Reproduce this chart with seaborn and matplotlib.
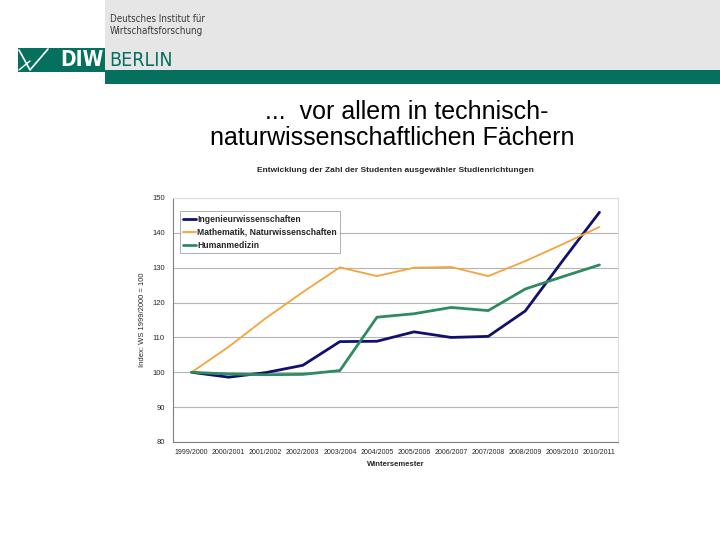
import matplotlib
matplotlib.use("Agg")
import matplotlib.pyplot as plt
import matplotlib.patches as mpatches
import matplotlib.lines as mlines
import pandas as pd
import seaborn as sns

semester = ['1999/2000', '2000/2001', '2001/2002', '2002/2003', '2003/2004', '2004/2005',
            '2005/2006', '2006/2007', '2007/2008', '2008/2009', '2009/2010', '2010/2011']
ingenieur = [100, 98.6, 99.9, 102.0, 108.8, 108.9, 111.6, 110.0, 110.3, 117.6, 131.9, 145.9]
mathe = [100, 107.3, 115.5, 123.0, 130.1, 127.6, 130.0, 130.2, 127.6, 131.9, 136.7, 141.7]
medizin = [100, 99.5, 99.3, 99.4, 100.5, 115.8, 116.8, 118.6, 117.7, 123.9, 127.4, 130.8]
serien = ['Ingenieurwissenschaften', 'Mathematik, Naturwissenschaften', 'Humanmedizin']
farben = ['#10106e', '#f5a43a', '#2f8a62']

rows = []
for name, werte in zip(serien, [ingenieur, mathe, medizin]):
    for i, w in enumerate(werte):
        rows.append({'pos': i, 'wert': w, 'serie': name})
df = pd.DataFrame(rows)

sns.set_style('white')
plt.rcParams['font.family'] = ['Liberation Sans', 'DejaVu Sans']

W, H = 720, 540
fig = plt.figure(figsize=(7.2, 5.4), dpi=100)

def fx(x):
    return x / W

def fy(y):
    return 1 - y / H

# Kopfbereich DIW
fig.add_artist(mpatches.Rectangle((fx(105), fy(70)), fx(615), 70 / H, transform=fig.transFigure,
                                  facecolor='#e6e6e6', edgecolor='none'))
fig.add_artist(mpatches.Rectangle((fx(105), fy(84)), fx(615), 14 / H, transform=fig.transFigure,
                                  facecolor='#06705f', edgecolor='none'))
fig.add_artist(mpatches.Rectangle((fx(18), fy(72)), fx(87), 24 / H, transform=fig.transFigure,
                                  facecolor='#06705f', edgecolor='none'))
fig.add_artist(mlines.Line2D([fx(19), fx(30), fx(48)], [fy(50), fy(70), fy(49)],
                             transform=fig.transFigure, color='white', lw=1.2))
fig.add_artist(mlines.Line2D([fx(19), fx(30)], [fy(70), fy(61)],
                             transform=fig.transFigure, color='white', lw=1.0))
fig.text(fx(60), fy(60), 'DIW', color='white', fontsize=15, fontweight='bold',
         family='DejaVu Sans', fontstretch='condensed', va='center', ha='left')
fig.text(fx(109), fy(60), 'BERLIN', color='#06705f', fontsize=14,
         family='DejaVu Sans', fontstretch='condensed', va='center', ha='left')
fig.text(fx(110), fy(19), 'Deutsches Institut für', color='#3a3a3a', fontsize=7,
         family='DejaVu Sans', fontstretch='condensed', va='center', ha='left')
fig.text(fx(110), fy(31), 'Wirtschaftsforschung', color='#3a3a3a', fontsize=7,
         family='DejaVu Sans', fontstretch='condensed', va='center', ha='left')

# Folientitel
fig.text(fx(407), fy(112), '...  vor allem in technisch-', ha='center', va='center',
         fontsize=18, color='black')
fig.text(fx(392), fy(138), 'naturwissenschaftlichen Fächern', ha='center', va='center',
         fontsize=18, color='black')

# Diagramm
ax = fig.add_axes([fx(173), fy(442), fx(618 - 173), (442 - 198) / H])
sns.lineplot(data=df, x='pos', y='wert', hue='serie', hue_order=serien, palette=farben,
             ax=ax, legend=False)
for line, lw in zip(ax.lines, [2.0, 1.3, 2.0]):
    line.set_linewidth(lw)

ax.set_xlim(-0.5, 11.5)
ax.set_ylim(80, 150)
ax.set_yticks(range(80, 151, 10))
ax.yaxis.grid(True, color='#b4b4b4', lw=0.8)
ax.set_axisbelow(True)
ax.set_xticks(range(12))
ax.set_xticklabels(semester, fontsize=5)
ax.set_xticks([i - 0.5 for i in range(13)], minor=True)
ax.tick_params(axis='x', which='major', length=0, pad=5)
ax.tick_params(axis='x', which='minor', length=3, color='#808080', width=0.6)
ax.tick_params(axis='y', labelsize=5.5, length=3, color='#808080', width=0.6, pad=3)
for s in ['left', 'bottom']:
    ax.spines[s].set_color('#808080')
    ax.spines[s].set_linewidth(0.8)
for s in ['top', 'right']:
    ax.spines[s].set_color('#dcdcdc')
    ax.spines[s].set_linewidth(0.8)

ax.set_xlabel('Wintersemester', fontsize=5.5, fontweight='bold', labelpad=4)
ax.set_ylabel('Index: WS 1999/2000 = 100', fontsize=5.5, labelpad=4)
ax.set_title('Entwicklung der Zahl der Studenten ausgewähler Studienrichtungen',
             fontsize=6, fontweight='bold', pad=19)

handles = [mlines.Line2D([], [], color=c, lw=lw) for c, lw in zip(farben, [2.0, 1.3, 2.0])]
leg = ax.legend(handles, serien, loc='upper left', bbox_to_anchor=(0.015, 0.945),
                fontsize=6.2, frameon=True, fancybox=False, handlelength=1.5,
                handletextpad=0.1, borderpad=0.4, labelspacing=0.45, borderaxespad=0)
leg.get_frame().set_edgecolor('#8c8c8c')
leg.get_frame().set_linewidth(0.6)
for t in leg.get_texts():
    t.set_fontweight('bold')

fig.savefig('out.png', dpi=100)
